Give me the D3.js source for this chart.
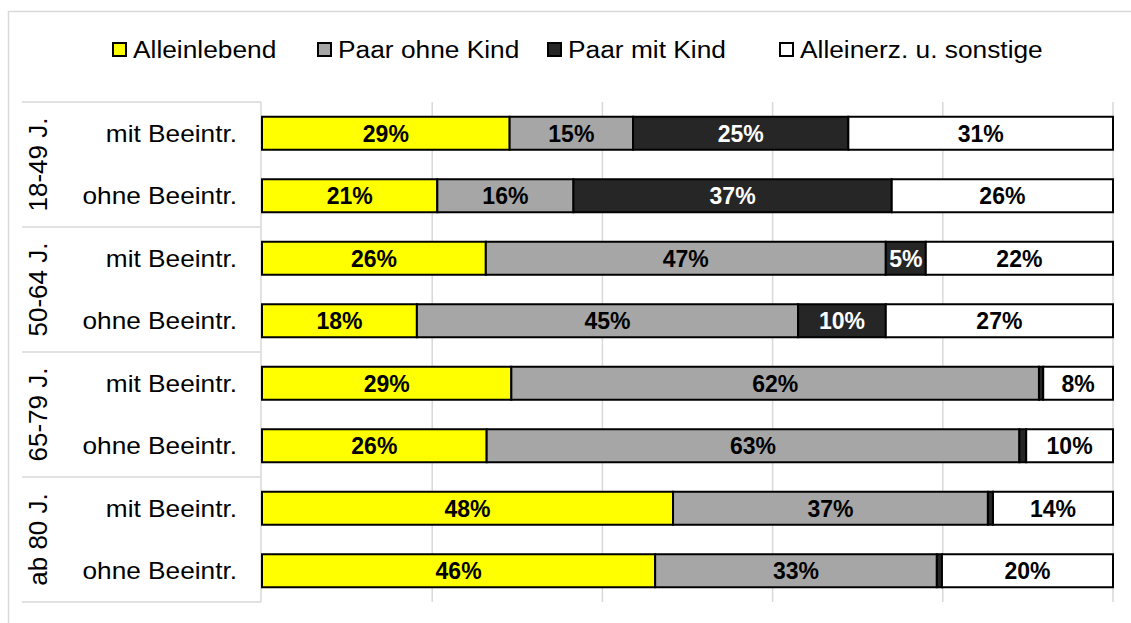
<!DOCTYPE html>
<html><head><meta charset="utf-8">
<script src="https://cdn.jsdelivr.net/npm/d3@7"></script>
<style>body{margin:0;background:#fff}svg{display:block;font-family:"Liberation Sans",Arial,sans-serif}</style>
</head><body><svg id="c" width="1131" height="623"></svg>
<script>
const seriesNames = ["Alleinlebend", "Paar ohne Kind", "Paar mit Kind", "Alleinerz. u. sonstige"];
const groups = ["18-49 J.", "50-64 J.", "65-79 J.", "ab 80 J."];
const rowLabels = ["mit Beeintr.", "ohne Beeintr."];
const alleinlebend = [29.1, 20.6, 26.3, 18.2, 29.3, 26.4, 48.3, 46.2];
const paarOhneKind = [14.5, 16.0, 47.0, 44.8, 62.0, 62.6, 37.0, 33.1];
const paarMitKind  = [25.3, 37.4, 4.7, 10.3, 0.5, 0.8, 0.6, 0.6];
const sonstige     = [31.1, 26.0, 22.0, 26.7, 8.2, 10.2, 14.1, 20.1];
const xTicks = [0, 20, 40, 60, 80, 100];

const colors = ["#ffff00", "#a6a6a6", "#262626", "#ffffff"];
const labelColors = ["#000", "#000", "#fff", "#000"];

const svg = d3.select("#c");
const rows = [];
groups.forEach((g, gi) => rowLabels.forEach((r, ri) => rows.push({id: gi * 2 + ri, group: g, label: r})));
const table = rows.map((r, i) => ({id: r.id, v: [alleinlebend[i], paarOhneKind[i], paarMitKind[i], sonstige[i]]}));

const x = d3.scaleLinear().domain([0, 100]).range([262, 1113]);
const y = d3.scaleBand().domain(rows.map(r => r.id)).range([102, 602]).paddingInner(0.472).paddingOuter(0.236);
const yg = d3.scaleBand().domain(groups).range([102, 602]);

// outer frame
svg.append("rect").attr("x", 8.5).attr("y", 11.5).attr("width", 1140).attr("height", 640)
  .attr("fill", "none").attr("stroke", "#d9d9d9").attr("stroke-width", 1.5);

// gridlines
svg.append("g").selectAll("line").data(xTicks.slice(1)).join("line")
  .attr("x1", d => x(d)).attr("x2", d => x(d)).attr("y1", 102).attr("y2", 602)
  .attr("stroke", "#d9d9d9").attr("stroke-width", 1.5);

// category table lines
const tl = svg.append("g").attr("stroke", "#d9d9d9").attr("stroke-width", 1.5);
tl.selectAll("line.h").data(groups.concat(["end"])).join("line")
  .attr("x1", 22).attr("x2", 261)
  .attr("y1", (d, i) => i < groups.length ? yg(d) : yg.range()[1])
  .attr("y2", (d, i) => i < groups.length ? yg(d) : yg.range()[1]);
tl.append("line").attr("x1", 261).attr("x2", 261).attr("y1", 102).attr("y2", 602);

// stacked data
const stack = d3.stack().keys([0, 1, 2, 3]).value((d, k) => d.v[k]);
const stacked = stack(table);

const bars = svg.append("g");
stacked.forEach((layer, k) => {
  const g = bars.append("g");
  g.selectAll("rect").data(layer).join("rect")
    .attr("x", d => x(d[0])).attr("width", d => x(d[1]) - x(d[0]))
    .attr("y", d => y(d.data.id)).attr("height", y.bandwidth())
    .attr("fill", colors[k]).attr("stroke", "#000").attr("stroke-width", 2);
});
stacked.forEach((layer, k) => {
  bars.append("g").selectAll("text").data(layer.filter(d => d[1] - d[0] >= 3)).join("text")
    .attr("x", d => (x(d[0]) + x(d[1])) / 2)
    .attr("y", d => y(d.data.id) + y.bandwidth() / 2 + 8.5)
    .attr("text-anchor", "middle").attr("font-weight", "bold").attr("font-size", 23)
    .attr("fill", labelColors[k])
    .text(d => Math.round(d[1] - d[0]) + "%");
});

// row labels
svg.append("g").selectAll("text").data(rows).join("text")
  .attr("transform", d => `translate(237,${y(d.id) + y.bandwidth() / 2 + 8.5}) scale(1.14,1)`)
  .attr("text-anchor", "end").attr("font-size", 23).attr("fill", "#000")
  .text(d => d.label);

// group labels
svg.append("g").selectAll("text").data(groups).join("text")
  .attr("transform", d => `translate(46.5,${yg(d) + yg.bandwidth() / 2}) rotate(-90)`)
  .attr("text-anchor", "middle").attr("font-size", 26).attr("fill", "#000")
  .text(d => d);

// legend
const legendX = [113, 318, 548, 780];
const lg = svg.append("g");
seriesNames.forEach((n, i) => {
  lg.append("rect").attr("x", legendX[i]).attr("y", 43).attr("width", 13).attr("height", 13)
    .attr("fill", colors[i]).attr("stroke", "#000").attr("stroke-width", 2);
  lg.append("text").attr("transform", `translate(${legendX[i] + 20},58) scale(1.12,1)`)
    .attr("font-size", 23.5).attr("fill", "#000").text(n);
});
</script></body></html>
